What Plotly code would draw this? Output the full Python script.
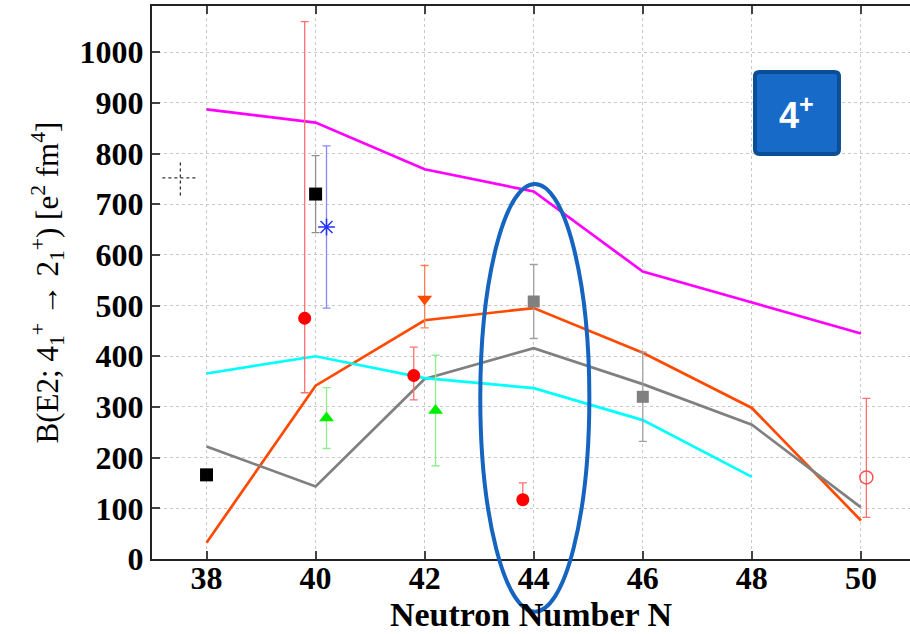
import plotly.graph_objects as go

# ---------------- data ----------------
N_theory = [38, 40, 42, 44, 46, 48, 50]
magenta_vals = [887, 861, 769, 725, 567, 506, 445]
orange_vals = [32, 342, 471, 495, 407, 298, 76]
gray_vals = [222, 143, 355, 416, 345, 265, 102]
N_cyan = [38, 40, 42, 44, 46, 48]
cyan_vals = [366, 400, 357, 337, 274, 162]

red_N = [39.8, 41.8, 43.8]
red_B = [475, 362, 117]
red_up = [585, 56, 33]
red_dn = [147, 48, 0]

green_N = [40.2, 42.2]
green_B = [278, 293]
green_err = [60, 109]

black_N = [38, 40]
black_B = [166, 720]
black_err = [0, 76]

blue_N = [40.2]
blue_B = [655]
blue_err = [160]

orange_pt_N = [42]
orange_pt_B = [513]
orange_pt_up = [66]
orange_pt_dn = [57]

gray_pt_N = [44, 46]
gray_pt_B = [508, 320]
gray_pt_err = [73, 88]

open_N = [50.1]
open_B = [161]
open_up = [156]
open_dn = [79]

cross_N = [37.52]
cross_B = [752]
cross_xerr = [0.33]
cross_yerr = [35]

x_ticks = [38, 40, 42, 44, 46, 48, 50]
y_ticks = [0, 100, 200, 300, 400, 500, 600, 700, 800, 900, 1000]

# highlight ellipse around N = 44 (data units)
ell_N = [43.02, 45.02]
ell_B = [-104, 740]

X_RANGE = [37, 50.9]
Y_RANGE = [0, 1091]

fig = go.Figure()

# theory lines
for xs, ys, col in [(N_theory, magenta_vals, '#FF00FF'),
                    (N_theory, orange_vals, '#FF4A00'),
                    (N_theory, gray_vals, '#808080'),
                    (N_cyan, cyan_vals, '#00FFFF')]:
    fig.add_trace(go.Scatter(x=xs, y=ys, mode='lines',
                             line=dict(color=col, width=2.7)))

# crosshair (dotted)
fig.add_trace(go.Scatter(x=[cross_N[0] - cross_xerr[0], cross_N[0] + cross_xerr[0]],
                         y=[cross_B[0], cross_B[0]], mode='lines',
                         line=dict(color='#333333', width=1.3, dash='dot')))
fig.add_trace(go.Scatter(x=[cross_N[0], cross_N[0]],
                         y=[cross_B[0] - cross_yerr[0], cross_B[0] + cross_yerr[0]], mode='lines',
                         line=dict(color='#333333', width=1.3, dash='dot')))

# experimental points
fig.add_trace(go.Scatter(x=black_N, y=black_B, mode='markers',
                         marker=dict(symbol='square', size=13, color='black'),
                         error_y=dict(type='data', array=black_err, color='#909090',
                                      thickness=1.3, width=4)))
fig.add_trace(go.Scatter(x=blue_N, y=blue_B, mode='markers',
                         marker=dict(symbol='asterisk-open', size=14, color='#2233FF',
                                     line=dict(color='#2233FF', width=1.5)),
                         error_y=dict(type='data', array=blue_err, color='#8888FF',
                                      thickness=1.3, width=4)))
fig.add_trace(go.Scatter(x=red_N, y=red_B, mode='markers',
                         marker=dict(symbol='circle', size=13, color='#FF0000'),
                         error_y=dict(type='data', symmetric=False, array=red_up,
                                      arrayminus=red_dn, color='#FF7070',
                                      thickness=1.3, width=4)))
fig.add_trace(go.Scatter(x=green_N, y=green_B, mode='markers',
                         marker=dict(symbol='triangle-up', size=13, color='#00EE00'),
                         error_y=dict(type='data', array=green_err, color='#90EE90',
                                      thickness=1.3, width=4)))
fig.add_trace(go.Scatter(x=orange_pt_N, y=orange_pt_B, mode='markers',
                         marker=dict(symbol='triangle-down', size=13, color='#FF4A00'),
                         error_y=dict(type='data', symmetric=False, array=orange_pt_up,
                                      arrayminus=orange_pt_dn, color='#FF8050',
                                      thickness=1.3, width=4)))
fig.add_trace(go.Scatter(x=gray_pt_N, y=gray_pt_B, mode='markers',
                         marker=dict(symbol='square', size=12, color='#808080'),
                         error_y=dict(type='data', array=gray_pt_err, color='#A0A0A0',
                                      thickness=1.3, width=4)))
fig.add_trace(go.Scatter(x=open_N, y=open_B, mode='markers',
                         marker=dict(symbol='circle-open', size=13, color='#FF5050',
                                     line=dict(color='#FF5050', width=1.5)),
                         error_y=dict(type='data', symmetric=False, array=open_up,
                                      arrayminus=open_dn, color='#FF7070',
                                      thickness=1.3, width=4)))

serif = 'Liberation Serif'
axis_common = dict(showline=True, linecolor='#222222', linewidth=2, automargin=False,
                   ticks='inside', ticklen=8, tickwidth=2, tickcolor='#444444',
                   showgrid=True, gridcolor='#C8C8C8', griddash='dot', gridwidth=1,
                   zeroline=False,
                   tickfont=dict(family=serif, size=32, color='black', weight='bold'))

fig.update_xaxes(range=X_RANGE, tickvals=x_ticks, mirror='ticks', ticklabelstandoff=-10,
                 title=dict(text='Neutron Number N', standoff=0,
                            font=dict(family=serif, size=34, color='black', weight='bold')),
                 **axis_common)
fig.update_yaxes(range=Y_RANGE, tickvals=y_ticks, mirror=False,
                 title=dict(text='B(E2; 4<sub>1</sub><sup>+</sup> \u2192 2<sub>1</sub><sup>+</sup>) [e<sup>2</sup> fm<sup>4</sup>]',
                            standoff=12,
                            font=dict(family=serif, size=31, color='black')),
                 **axis_common)

# ellipse: x in data, y converted to paper so it can run below the axis
fig.add_shape(type='circle', xref='x', yref='paper',
              x0=ell_N[0], x1=ell_N[1],
              y0=ell_B[0] / Y_RANGE[1], y1=ell_B[1] / Y_RANGE[1],
              line=dict(color='#1565C0', width=4), layer='above')

# "4+" badge
bx0, bx1, by0, by1 = 0.7955, 0.9063, 0.7325, 0.8807
rx, ry = 0.006, 0.008
path = (f'M {bx0+rx},{by0} L {bx1-rx},{by0} Q {bx1},{by0} {bx1},{by0+ry} '
        f'L {bx1},{by1-ry} Q {bx1},{by1} {bx1-rx},{by1} L {bx0+rx},{by1} '
        f'Q {bx0},{by1} {bx0},{by1-ry} L {bx0},{by0+ry} Q {bx0},{by0} {bx0+rx},{by0} Z')
fig.add_shape(type='path', xref='paper', yref='paper', path=path,
              fillcolor='#176AC8', line=dict(color='#0B4E96', width=4), layer='above')
fig.add_annotation(xref='paper', yref='paper', x=(bx0 + bx1) / 2, y=(by0 + by1) / 2,
                   xanchor='center', yanchor='middle',
                   text='4<sup>+</sup>', showarrow=False,
                   font=dict(family='Liberation Sans', size=36, color='white', weight='bold'))

fig.update_layout(width=910, height=634, margin=dict(l=152, r=0, t=6, b=75),
                  plot_bgcolor='white', paper_bgcolor='white', showlegend=False)

fig.write_html('out.html', config={'displayModeBar': False},
               post_script="document.body.style.margin='0px';document.body.style.overflow='hidden';")
